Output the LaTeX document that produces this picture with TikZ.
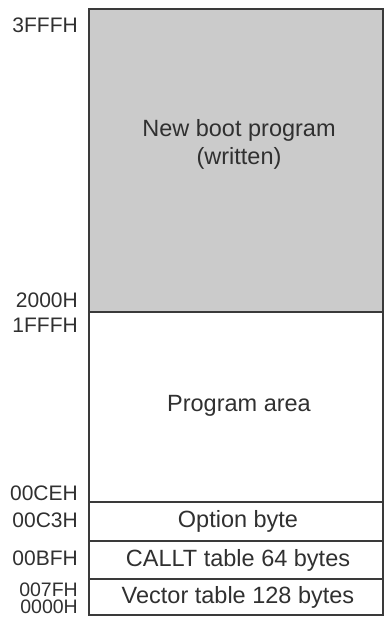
\documentclass[tikz,border=0pt]{standalone}
\usepackage{fontspec}
\setmainfont{Liberation Sans}
\usepackage{xcolor}
\definecolor{memgray}{HTML}{cbcbcb}
\definecolor{memline}{HTML}{3a3a3a}
\definecolor{memtext}{HTML}{303030}

\begin{document}
\begin{tikzpicture}[x=1pt,y=-1pt,
  addr/.style={anchor=east,inner sep=0pt,text=memtext,font=\fontsize{21}{24}\selectfont},
  area/.style={inner sep=0pt,align=center,text=memtext,font=\fontsize{23.5}{28}\selectfont}]
  \useasboundingbox (0,0) rectangle (385,619);
  % memory map
  \fill[memgray] (89,9) rectangle (383,312);
  \draw[memline,line width=1.6pt] (89,9) rectangle (383,615);
  \draw[memline,line width=1.4pt] (89,312) -- (383,312);
  \draw[memline,line width=1.2pt] (89,502) -- (383,502);
  \draw[memline,line width=1.2pt] (89,541) -- (383,541);
  \draw[memline,line width=1.2pt] (89,579) -- (383,579);
  % areas
  \node[area] (boot) at (239,144) {New boot program\\(written)};
  \node[area] (prog) at (239,406) {Program area};
  \node[area] (opt) at (238,521) {Option byte};
  \node[area] (callt) at (238,560) {CALLT table 64 bytes};
  \node[area] (vect) at (238,597) {Vector table 128 bytes};
  % addresses
  \node[addr] (a3fff) at (78,25) {3FFFH};
  \node[addr] (a2000) at (78,300) {2000H};
  \node[addr] (a1fff) at (78,325) {1FFFH};
  \node[addr] (a00ce) at (78,493) {00CEH};
  \node[addr] (a00c3) at (78,520) {00C3H};
  \node[addr] (a00bf) at (78,558) {00BFH};
  \node[addr,font=\fontsize{19.5}{22}\selectfont] (a007f) at (78,590) {007FH};
  \node[addr,font=\fontsize{19.5}{22}\selectfont] (a0000) at (78,607) {0000H};
\end{tikzpicture}
\end{document}
